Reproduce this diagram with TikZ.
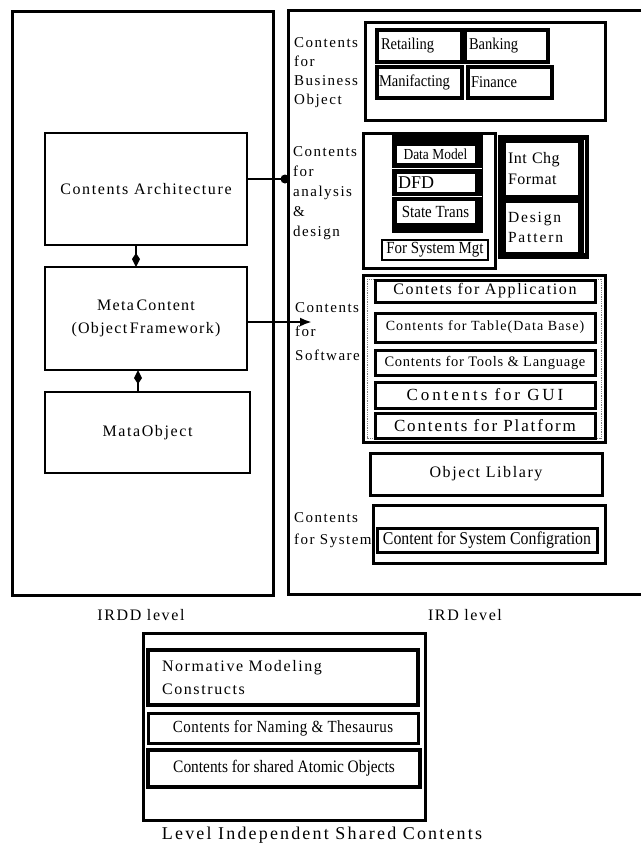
\documentclass[tikz,border=0pt]{standalone}
\usepackage{fontspec}
\setmainfont{Liberation Serif}
\usetikzlibrary{arrows.meta}
\newcommand\fsz[2]{\fontsize{#1}{#2}\selectfont}
\newcommand\lsp[1]{\addfontfeature{LetterSpace=#1}}
\newcommand\cnd{\addfontfeature{FakeStretch=0.88}}
\tikzset{
  bx/.style={draw, line width=3pt, fill=white, inner sep=0pt, outer sep=0pt, anchor=north west, align=center},
  bigbx/.style={bx, line width=2.5pt},
  thinbx/.style={draw, line width=0.6pt, fill=white, inner sep=0pt, outer sep=0pt, anchor=north west, align=center},
  blk/.style={fill=black, draw=black, inner sep=0pt, outer sep=0pt, anchor=north west},
  lab/.style={inner sep=0pt, anchor=north west, align=left},
  captxt/.style={inner sep=0pt, anchor=center},
  conn/.style={line width=2.5pt},
  tipk/.style={-{Kite[length=14pt,width=8pt,inset=6pt]}},
}
\begin{document}
\begin{tikzpicture}[x=1pt,y=-1pt]
\useasboundingbox[fill=white] (0,0) rectangle (641,846);

% IRDD level
\node[bx, minimum width=261pt, minimum height=584pt, fill=none] (irdd) at (12,11) {};
\node[bigbx, minimum width=202pt, minimum height=112pt, font=\fsz{16}{20}\lsp{10}] (ca) at (45,133) {Contents Architecture};
\node[bigbx, minimum width=202pt, minimum height=103pt, font=\fsz{16}{23}\lsp{8}] (mc) at (45,267) {Meta\,Content\\(Object\,Framework)};
\node[bigbx, minimum width=205pt, minimum height=81pt, font=\fsz{16}{20}\lsp{10}] (mo) at (45,392) {MataObject};
\draw[conn, tipk] (ca.south -| 136,0) -- (mc.north -| 136,0);
\draw[conn, tipk] (mo.north -| 138,0) -- (mc.south -| 138,0);

% IRD level frame
\draw[line width=3pt] (641,10) -- (288,10) -- (288,594) -- (641,594);

% business objects
\node[lab, font=\fsz{15}{19}\lsp{10}] (lbus) at (294,37) {Contents\\for\\Business\\Object};
\node[bx, minimum width=240pt, minimum height=98pt] (bus) at (365,22) {};
\node[bx, line width=3.5pt, minimum width=85pt, minimum height=32pt, text width=77pt, inner xsep=4pt, align=left, font=\fsz{16.5}{18}\cnd] (ret) at (377,30) {Retailing};
\node[bx, line width=3.5pt, minimum width=83pt, minimum height=32pt, text width=75pt, inner xsep=4pt, align=left, font=\fsz{16.5}{18}\cnd] (bank) at (465,30) {Banking};
\node[bx, line width=3.5pt, minimum width=85pt, minimum height=31pt, text width=81pt, inner xsep=2pt, align=left, font=\fsz{16.5}{18}\cnd] (man) at (377,67) {Manifacting};
\node[bx, line width=3.5pt, minimum width=84pt, minimum height=31pt, text width=78pt, inner xsep=3pt, align=left, font=\fsz{16.5}{18}\cnd] (fin) at (468,67) {Finance};

% analysis & design
\node[lab, font=\fsz{15}{20}\lsp{10}] (lana) at (293,146) {Contents\\for\\analysis\\\&\\design};
\node[bx, minimum width=132pt, minimum height=135pt] (ana) at (363,133) {};
\node[blk, minimum width=90pt, minimum height=97pt] (blka) at (392,135) {};
\node[thinbx, minimum width=79pt, minimum height=18pt, font=\fsz{15.3}{16}\cnd] (dm) at (396,145) {Data Model};
\node[thinbx, minimum width=79pt, minimum height=19pt, text width=75pt, inner xsep=2pt, align=left, font=\fsz{18}{20}] (dfd) at (396,173) {DFD};
\node[thinbx, minimum width=79pt, minimum height=23pt, font=\fsz{17}{18}\cnd] (st) at (396,200) {State Trans};
\draw[white, line width=1pt] (blka.west |- 0,168) -- (blka.east |- 0,168);
\draw[white, line width=1pt] (blka.west |- 0,196) -- (blka.east |- 0,196);
\node[bx, line width=2.5pt, minimum width=106pt, minimum height=20pt, font=\fsz{17}{18}\cnd] (mgt) at (382,240) {For System Mgt};
\node[blk, minimum width=90pt, minimum height=123pt] (blkb) at (498,135) {};
\path (blkb.north east) ++(-4,5) coordinate (w1) (blkb.south east) ++(-4,-5) coordinate (w2);
\draw[white, line width=1pt] (w1) -- (w2);
\node[thinbx, minimum width=73pt, minimum height=53pt, text width=67pt, inner xsep=3pt, align=left, font=\fsz{16}{21}\lsp{3}] (icf) at (505,142) {Int Chg\\Format};
\node[thinbx, minimum width=73pt, minimum height=50pt, text width=67pt, inner xsep=3pt, align=left, font=\fsz{15.5}{20}\lsp{12}] (dp) at (505,202) {Design\\Pattern};
\coordinate (dotA) at (285,179);
\draw[conn] (dotA -| ca.east) -- (dotA);
\fill (dotA) circle (4.5pt);

% software
\node[lab, font=\fsz{15}{24}\lsp{10}] (lsw) at (295,302) {Contents\\for\\Software};
\node[bx, minimum width=242pt, minimum height=167pt] (sw) at (363,275) {};
\draw[gray, densely dotted, line width=0.8pt] ([shift={(4,4)}]sw.north west) rectangle ([shift={(-4,-4)}]sw.south east);
\node[bx, minimum width=220pt, minimum height=22pt, font=\fsz{16}{18}\lsp{10}] (app) at (375,280) {Contets for Application};
\node[bx, minimum width=220pt, minimum height=29pt, font=\fsz{14}{16}\lsp{8}] (tab) at (375,313) {Contents for Table(Data Base)};
\node[bx, minimum width=220pt, minimum height=25pt, font=\fsz{14.5}{16}\lsp{5}] (tool) at (375,350) {Contents for Tools \& Language};
\node[bx, minimum width=220pt, minimum height=26pt, font=\fsz{17}{19}\lsp{17}] (gui) at (375,382) {Contents for GUI};
\node[bx, minimum width=220pt, minimum height=25pt, font=\fsz{17}{19}\lsp{11}] (plat) at (375,413) {Contents for Platform};
\coordinate (arrB) at (312,322);
\draw[conn, -{Latex[length=12pt,width=9pt]}] (arrB -| mc.east) -- (arrB);

% object library
\node[bx, minimum width=232pt, minimum height=42pt, font=\fsz{16}{18}\lsp{10}] (lib) at (370,453) {Object Liblary};

% system
\node[lab, font=\fsz{15}{22}\lsp{10}] (lsys) at (294,512) {Contents\\for System};
\node[bx, minimum width=232pt, minimum height=58pt] (sys) at (373,505) {};
\node[bx, minimum width=220pt, minimum height=24pt, font=\fsz{18}{19}\cnd] (cfg) at (377,528) {Content for System Configration};

% level captions
\node[captxt, font=\fsz{16}{18}\lsp{10}] (cirdd) at (141,615) {IRDD level};
\node[captxt, font=\fsz{16}{18}\lsp{10}] (cird) at (465,615) {IRD level};

% shared contents
\node[bx, minimum width=282pt, minimum height=187pt] (lisc) at (143,633) {};
\node[bx, line width=3.5pt, minimum width=270pt, minimum height=55pt, text width=242pt, inner xsep=14pt, align=left, font=\fsz{16}{23}\lsp{10}] (nmc) at (148,650) {Normative Modeling\\Constructs};
\node[bx, minimum width=270pt, minimum height=30pt, font=\fsz{17}{18}\cnd\lsp{3}] (nt) at (148,713) {Contents for Naming \& Thesaurus};
\node[bx, line width=3.5pt, minimum width=272pt, minimum height=37pt, font=\fsz{17.5}{19}\cnd] (sao) at (148,750) {Contents for shared Atomic Objects};
\node[captxt, font=\fsz{18}{20}\lsp{12}] (clisc) at (322,835) {Level Independent Shared Contents};
\end{tikzpicture}
\end{document}
